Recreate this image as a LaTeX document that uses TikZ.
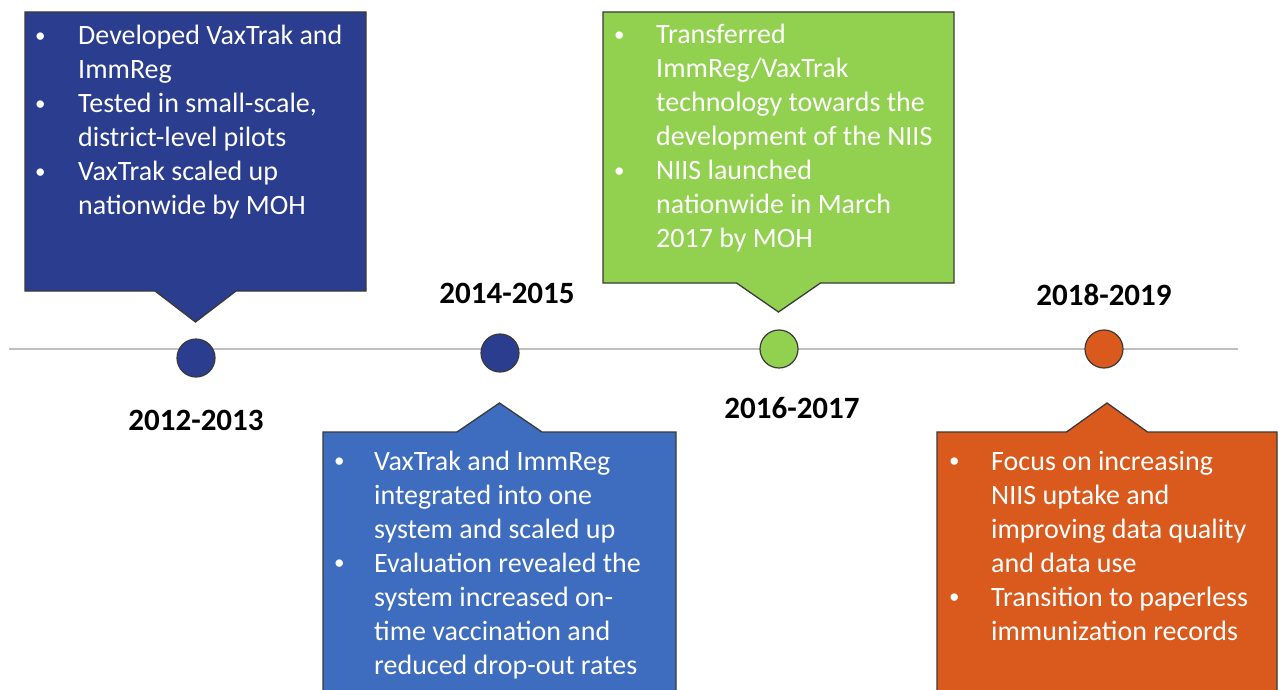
\documentclass[tikz,border=0pt]{standalone}
\usepackage{fontspec}
\setmainfont{Carlito}
\usetikzlibrary{shapes.callouts}

\definecolor{navy}{HTML}{2B3D8F}
\definecolor{midblue}{HTML}{3E6CBE}
\definecolor{leaf}{HTML}{92D050}
\definecolor{rust}{HTML}{DA5A1E}
\definecolor{axisgray}{HTML}{BFBFBF}
\definecolor{edge}{HTML}{3A3A3A}

% small list bullet, kept at the height of the text's middle
\newcommand{\bdot}{\raisebox{2.5pt}{\scalebox{0.75}{\textbullet}}}

\begin{document}
\begin{tikzpicture}[x=1pt,y=-1pt,
  callbox/.style={rectangle callout, draw=edge, line width=1.3pt, inner sep=0pt},
  dot/.style={circle, draw=edge, line width=1.2pt, minimum size=38pt, inner sep=0pt},
  year/.style={font=\fontsize{31}{36}\selectfont\bfseries, text=black, inner sep=0pt, text depth=0pt},
  bullets/.style={anchor=base west, inner sep=0pt, text=white, font=\fontsize{28}{34}\selectfont},
  axis/.style={draw=axisgray, line width=2.5pt}]

\clip (0,0) rectangle (1279,690);
\fill[white] (0,0) rectangle (1279,690);

% timeline axis
\coordinate (axis-start) at (9,349);
\coordinate (axis-end) at (1238,349);
\draw[axis] (axis-start) -- (axis-end);

% milestones
\node[dot, fill=navy] (m1) at (196,358) {};
\node[dot, fill=navy] (m2) at (500,353) {};
\node[dot, fill=leaf] (m3) at (779,349) {};
\node[dot, fill=rust] (m4) at (1104,349) {};

\node[year] (y1) at (196,420) {2012-2013};
\node[year] (y2) at (507,293) {2014-2015};
\node[year] (y3) at (792,408) {2016-2017};
\node[year] (y4) at (1104,295) {2018-2019};

% callout boxes
\node[callbox, fill=navy, minimum width=341pt, minimum height=279pt,
      callout pointer width=81pt, callout absolute pointer={(195.5,322)}]
      (b1) at (195.5,151.5) {};
\node[callbox, fill=midblue, minimum width=353pt, minimum height=308pt,
      callout pointer width=85pt, callout absolute pointer={(499.5,403)}]
      (b2) at (499.5,586) {};
\node[callbox, fill=leaf, minimum width=351pt, minimum height=271pt,
      callout pointer width=84pt, callout absolute pointer={(778.5,312)}]
      (b3) at (778.5,147.5) {};
\node[callbox, fill=rust, minimum width=340pt, minimum height=308pt,
      callout pointer width=81pt, callout absolute pointer={(1107,403)}]
      (b4) at (1107,586) {};

% box texts
\node[bullets] (t1) at (35,45) {\begin{tabular}[t]{@{}p{43pt}@{}l@{}}
\bdot & Developed VaxTrak and\\
 & ImmReg\\
\bdot & Tested in small-scale,\\
 & district-level pilots\\
\bdot & VaxTrak scaled up\\
 & nationwide by MOH
\end{tabular}};

\node[bullets] (t2) at (334,470) {\begin{tabular}[t]{@{}p{40pt}@{}l@{}}
\bdot & VaxTrak and ImmReg\\
 & integrated into one\\
 & system and scaled up\\
\bdot & Evaluation revealed the\\
 & system increased on-\\
 & time vaccination and\\
 & reduced drop-out rates
\end{tabular}};

\node[bullets] (t3) at (614,44) {\begin{tabular}[t]{@{}p{42pt}@{}l@{}}
\bdot & Transferred\\
 & ImmReg/VaxTrak\\
 & technology towards the\\
 & development of the NIIS\\
\bdot & NIIS launched\\
 & nationwide in March\\
 & 2017 by MOH
\end{tabular}};

\node[bullets] (t4) at (949,470) {\begin{tabular}[t]{@{}p{42pt}@{}l@{}}
\bdot & Focus on increasing\\
 & NIIS uptake and\\
 & improving data quality\\
 & and data use\\
\bdot & Transition to paperless\\
 & immunization records
\end{tabular}};

\end{tikzpicture}
\end{document}
